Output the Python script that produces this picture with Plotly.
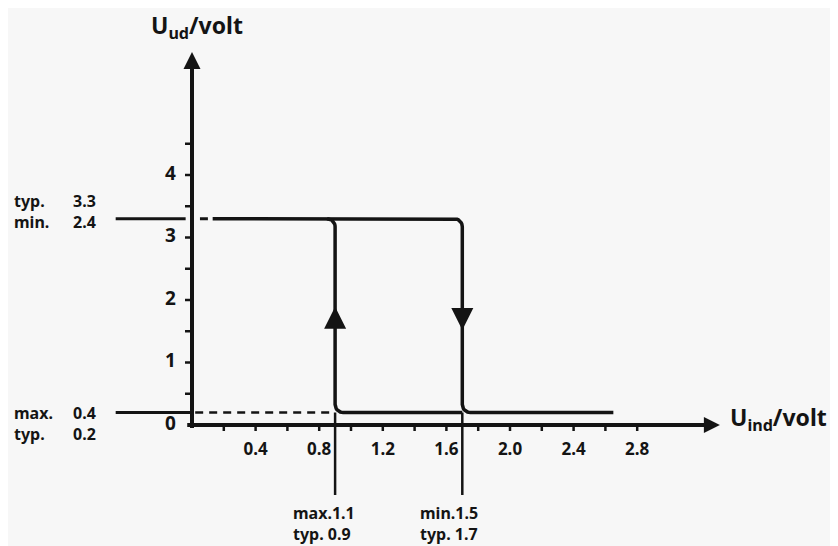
import numpy as np
import plotly.graph_objects as go

# ---------------- data ----------------
high_level = 3.3          # output high level (typ. 3.3)
low_level = 0.2           # output low level (typ. 0.2)
threshold_low = 0.9       # lower switching threshold (typ. 0.9)
threshold_high = 1.7      # upper switching threshold (typ. 1.7)
curve_x_start = 0.13
curve_x_end = 2.65
ref_x_left = -0.48
axis_x_end = 3.32
axis_y_end = 5.97
marker_y_bottom = -1.12

x_minor_ticks = [0.2, 0.4, 0.6, 0.8, 1.0, 1.2, 1.4, 1.6, 1.8, 2.0, 2.2, 2.4, 2.6, 2.8]
x_tick_values = [0.4, 0.8, 1.2, 1.6, 2.0, 2.4, 2.8]
x_tick_labels = ["0.4", "0.8", "1.2", "1.6", "2.0", "2.4", "2.8"]
y_minor_ticks = [0.5, 1.0, 1.5, 2.0, 2.5, 3.0, 3.5, 4.0, 4.5]
y_tick_values = [0, 1, 2, 3, 4]
y_tick_labels = ["0", "1", "2", "3", "4"]

left_words_high = ["typ.", "min."]
left_values_high = ["3.3", "2.4"]
left_words_low = ["max.", "typ."]
left_values_low = ["0.4", "0.2"]

bottom_label_x = [threshold_low, threshold_high]
bottom_label_top = ["max.1.1", "min.1.5"]
bottom_label_bot = ["typ. 0.9", "typ. 1.7"]

# ---------------- geometry helpers ----------------
W, H = 838, 546
OFF = 8        # page body margin in the browser
PX_X = 159.0   # pixels per x unit
PX_Y = 62.5    # pixels per y unit
X0, Y0 = 192, 425   # page pixel of the origin
RAD = 8.0      # corner radius in pixels
rx, ry = RAD / PX_X, RAD / PX_Y


def arc(cx, cy, a0, a1, n=10):
    t = np.radians(np.linspace(a0, a1, n))
    return list(cx + rx * np.cos(t)), list(cy + ry * np.sin(t))


def path_falling():
    xs, ys = [curve_x_start], [high_level]
    ax_, ay_ = arc(threshold_high - rx, high_level - ry, 90, 0)
    xs += ax_; ys += ay_
    ax_, ay_ = arc(threshold_high + rx, low_level + ry, 180, 270)
    xs += ax_; ys += ay_
    xs.append(curve_x_end); ys.append(low_level)
    return xs, ys


def path_rising():
    xs, ys = [], []
    ax_, ay_ = arc(threshold_low - rx, high_level - ry, 90, 0)
    xs += ax_; ys += ay_
    ax_, ay_ = arc(threshold_low + rx, low_level + ry, 180, 270)
    xs += ax_; ys += ay_
    xs.append(threshold_high); ys.append(low_level)
    return xs, ys


INK = "#141414"
BG = "#f7f7f7"
FONT = "Noto Sans"

fig = go.Figure()


def line(xs, ys, width=3.5, dash="solid"):
    fig.add_trace(go.Scatter(x=xs, y=ys, mode="lines", hoverinfo="skip",
                             line=dict(color=INK, width=width, dash=dash),
                             showlegend=False))


# axes
line([0, 0], [-0.05, axis_y_end - 0.2], width=4)
line([-0.03, axis_x_end - 0.05], [0, 0], width=4)
fig.add_trace(go.Scatter(x=[0], y=[axis_y_end], mode="markers", hoverinfo="skip",
                         marker=dict(symbol="arrow-up", size=17, color=INK),
                         showlegend=False))
fig.add_trace(go.Scatter(x=[axis_x_end], y=[0], mode="markers", hoverinfo="skip",
                         marker=dict(symbol="arrow-right", size=16, color=INK),
                         showlegend=False))

# ticks
tx, ty = [], []
for v in x_minor_ticks:
    tx += [v, v, None]; ty += [0, -6 / PX_Y, None]
line(tx, ty, width=2.5)
tx, ty = [], []
for v in y_minor_ticks:
    tx += [-7 / PX_X, 0, None]; ty += [v, v, None]
line(tx, ty, width=2.5)

# reference levels on the left
line([ref_x_left, -0.04], [high_level, high_level], width=3)
line([0.05, 0.10], [high_level, high_level], width=3)
line([ref_x_left, 0], [low_level, low_level], width=3)
line([0.02, threshold_low - 0.02], [low_level, low_level], width=2.5, dash="8px,6px")

# threshold markers below axis
for xv in bottom_label_x:
    line([xv, xv], [low_level, marker_y_bottom], width=2.5)

# hysteresis curve
xs, ys = path_falling()
line(xs, ys, width=3.5)
xs, ys = path_rising()
line(xs, ys, width=3.5)

# direction arrows on the loop
fig.add_trace(go.Scatter(x=[threshold_low], y=[1.89], mode="markers", hoverinfo="skip",
                         marker=dict(symbol="arrow-up", size=22, color=INK),
                         showlegend=False))
fig.add_trace(go.Scatter(x=[threshold_high], y=[1.52], mode="markers", hoverinfo="skip",
                         marker=dict(symbol="arrow-down", size=22, color=INK),
                         showlegend=False))

# tick labels
fig.add_trace(go.Scatter(x=x_tick_values, y=[-0.41] * len(x_tick_values), mode="text",
                         text=x_tick_labels, hoverinfo="skip", showlegend=False,
                         textfont=dict(family=FONT, size=17, color=INK, weight=700)))
fig.add_trace(go.Scatter(x=[-0.135] * len(y_tick_values), y=y_tick_values, mode="text",
                         text=y_tick_labels, hoverinfo="skip", showlegend=False,
                         textfont=dict(family=FONT, size=19, color=INK, weight=700)))

ann_font = dict(family=FONT, size=16, color=INK, weight=700)
for words, vals, yv in [(left_words_high, left_values_high, 3.41),
                        (left_words_low, left_values_low, 0.02)]:
    fig.add_annotation(x=-1.13, y=yv, text="<br>".join(words), showarrow=False,
                       xanchor="left", yanchor="middle", align="left", font=ann_font)
    fig.add_annotation(x=-0.59, y=yv, text="<br>".join(vals), showarrow=False,
                       xanchor="right", yanchor="middle", align="right", font=ann_font)

for xv, t1, t2 in zip(bottom_label_x, bottom_label_top, bottom_label_bot):
    fig.add_annotation(x=xv - 0.28, y=-1.58, text=t1 + "<br>" + t2, showarrow=False,
                       xanchor="left", yanchor="middle", align="left", font=ann_font)

# axis titles
title_font = dict(family=FONT, size=23, color=INK, weight=700)
fig.add_annotation(x=-0.27, y=6.38, text="U<sub>ud</sub>/volt", showarrow=False,
                   xanchor="left", yanchor="middle", font=title_font)
fig.add_annotation(x=3.37, y=0.1, text="U<sub>ind</sub>/volt", showarrow=False,
                   xanchor="left", yanchor="middle", font=title_font)

# the figure is placed OFF pixels into the page; map page pixels to data units
fig.update_xaxes(range=[(OFF - X0) / PX_X, (W - X0) / PX_X], visible=False, fixedrange=True)
fig.update_yaxes(range=[(Y0 - H) / PX_Y, (Y0 - OFF) / PX_Y], visible=False, fixedrange=True)
fig.update_layout(width=W - OFF, height=H - OFF, margin=dict(l=0, r=0, t=0, b=0, pad=0),
                  paper_bgcolor=BG, plot_bgcolor=BG, showlegend=False)

fig.write_html("out.html", config={"displayModeBar": False})
